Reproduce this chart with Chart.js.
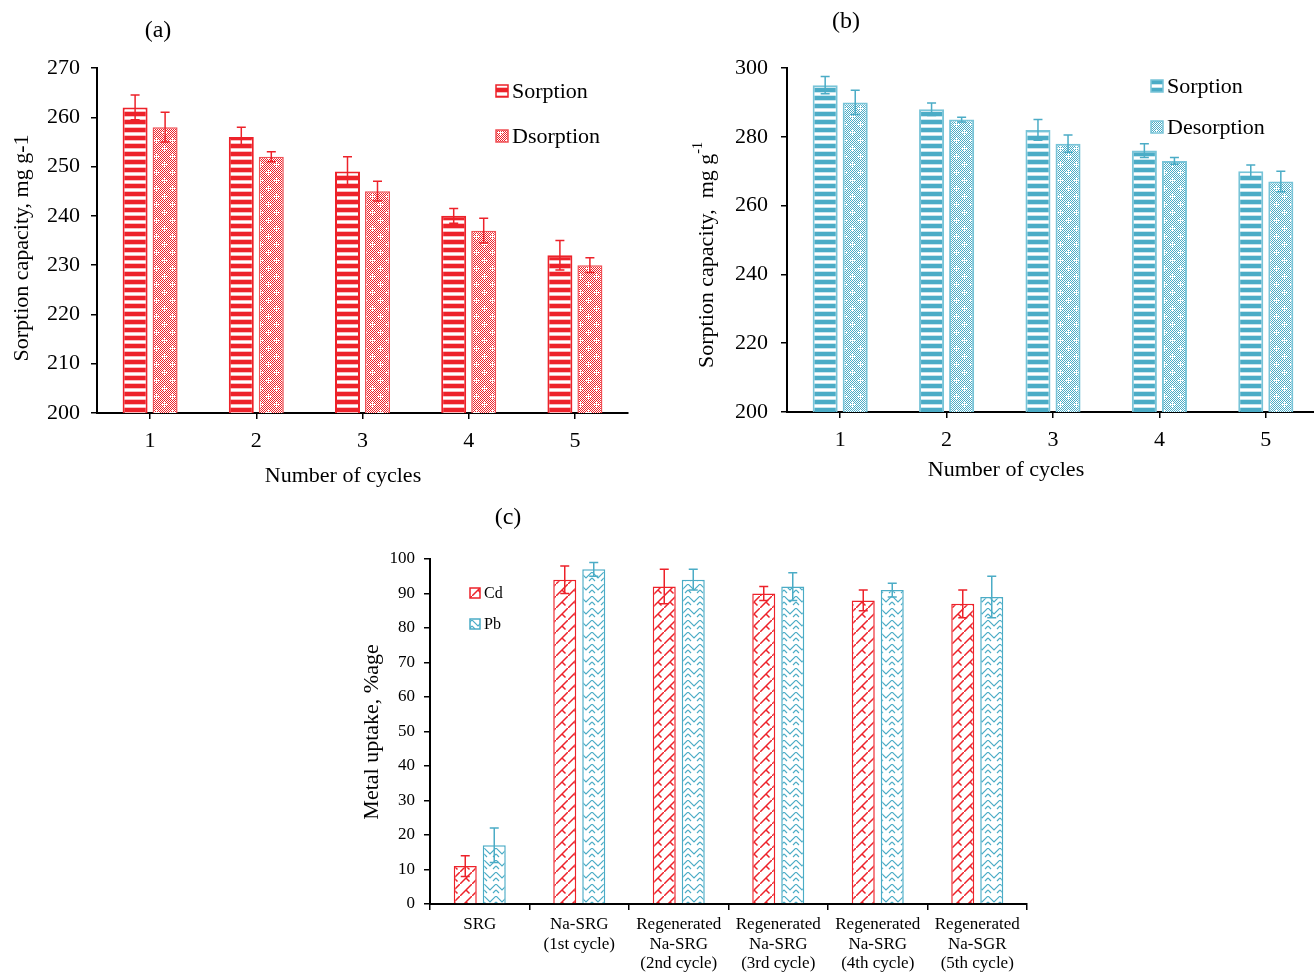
<!DOCTYPE html>
<html>
<head>
<meta charset="utf-8">
<script src="https://cdn.jsdelivr.net/npm/chart.js@4/dist/chart.umd.min.js"></script>
<style>
  html, body { margin: 0; padding: 0; background: #fff; overflow: hidden; width: 1314px; height: 973px; }
  canvas { position: absolute; }
  #chartA { left: 0; top: 0; }
  #chartB { left: 640px; top: 0; }
  #chartC { left: 340px; top: 500px; }
</style>
</head>
<body>
<canvas id="chartA" width="640" height="500"></canvas>
<canvas id="chartB" width="691" height="500"></canvas>
<canvas id="chartC" width="700" height="473"></canvas>
<script>
// ---------- data ----------
const cycleLabels = ["1", "2", "3", "4", "5"];

const sorptionA = [262, 256, 249, 240, 232];
const sorptionAErr = [2.5, 2, 3, 1.5, 3];
const desorptionA = [258, 252, 245, 237, 230];
const desorptionAErr = [3, 1, 2, 2.5, 1.5];

const sorptionB = [295, 288, 282, 276, 270];
const sorptionBErr = [2.5, 1.8, 3, 2, 1.8];
const desorptionB = [290, 285, 278, 273, 267];
const desorptionBErr = [3.5, 0.7, 2.5, 1, 3];

const sorbentLabels = [
  ["SRG"],
  ["Na-SRG", "(1st cycle)"],
  ["Regenerated", "Na-SRG", "(2nd cycle)"],
  ["Regenerated", "Na-SRG", "(3rd cycle)"],
  ["Regenerated", "Na-SRG", "(4th cycle)"],
  ["Regenerated", "Na-SGR", "(5th cycle)"]
];
const cdUptake = [11, 94, 92, 90, 88, 87];
const cdErr = [3, 4, 5, 2, 3, 4];
const pbUptake = [17, 97, 94, 92, 91, 89];
const pbErr = [5, 2, 3, 4, 2, 6];

// ---------- look ----------
const SERIF = "'Liberation Serif', 'Times New Roman', serif";
const RED = "rgb(237,34,42)";
const BLUE = "rgb(75,172,198)";
const BLUE_EDGE = "rgb(120,196,216)";

function tile(w, h, draw) {
  const c = document.createElement("canvas");
  c.width = w; c.height = h;
  const g = c.getContext("2d");
  g.fillStyle = "#fff";
  g.fillRect(0, 0, w, h);
  draw(g);
  return g.createPattern(c, "repeat");
}

function stripes(color) {
  return tile(8, 8, g => {
    g.fillStyle = color;
    g.fillRect(0, 0, 8, 4);
    g.globalAlpha = 0.3;
    g.fillRect(0, 4, 8, 1);
    g.fillRect(0, 7, 8, 1);
  });
}

function speckle(color) {
  return tile(16, 16, g => {
    g.fillStyle = color;
    for (let y = 0; y < 16; y++)
      for (let x = 0; x < 16; x++)
        if ((x + y) % 2 === 0) g.fillRect(x, y, 1, 1);
    g.fillStyle = "#fff";
    [[4, 4], [12, 12]].forEach(([x, y]) => {
      g.fillRect(x - 2, y, 5, 1);
      g.fillRect(x, y - 2, 1, 5);
    });
  });
}

// diagonal bands with short rungs, like a shingle fill
function shingle(color) {
  return tile(12, 12, g => {
    g.strokeStyle = color;
    g.lineWidth = 1.5;
    g.beginPath();
    g.moveTo(-1, 13); g.lineTo(13, -1);
    g.moveTo(6, 6); g.lineTo(9.5, 9.5);
    g.stroke();
  });
}

function weave(color) {
  return tile(12, 12, g => {
    g.strokeStyle = color;
    g.lineWidth = 1.2;
    g.beginPath();
    g.moveTo(0, 0); g.lineTo(6, 6); g.lineTo(12, 0);
    g.moveTo(0, 6); g.lineTo(3, 9);
    g.moveTo(9, 9); g.lineTo(12, 6);
    g.stroke();
  });
}

// ---------- plugins ----------
const errorBars = {
  id: "errorBars",
  afterDatasetsDraw(chart, args, opts) {
    const ctx = chart.ctx;
    const y = chart.scales.y;
    const half = (opts.cap || 9) / 2;
    chart.data.datasets.forEach((ds, i) => {
      if (!ds.errors) return;
      const meta = chart.getDatasetMeta(i);
      ctx.save();
      ctx.strokeStyle = ds.errorColor;
      ctx.lineWidth = 1.5;
      meta.data.forEach((bar, j) => {
        const top = y.getPixelForValue(ds.data[j] + ds.errors[j]);
        const bot = y.getPixelForValue(ds.data[j] - ds.errors[j]);
        ctx.beginPath();
        ctx.moveTo(bar.x, top); ctx.lineTo(bar.x, bot);
        ctx.moveTo(bar.x - half, top); ctx.lineTo(bar.x + half, top);
        ctx.moveTo(bar.x - half, bot); ctx.lineTo(bar.x + half, bot);
        ctx.stroke();
      });
      ctx.restore();
    });
  }
};

const captions = {
  id: "captions",
  afterDraw(chart, args, opts) {
    const ctx = chart.ctx;
    (opts.items || []).forEach(it => {
      ctx.save();
      ctx.fillStyle = "#000";
      ctx.textBaseline = "middle";
      ctx.textAlign = "left";
      ctx.translate(it.x, it.y);
      if (it.rotate) ctx.rotate(it.rotate);
      ctx.font = it.size + "px " + SERIF;
      const w = ctx.measureText(it.text).width;
      let supW = 0;
      const supFont = Math.round(it.size * 0.62) + "px " + SERIF;
      if (it.sup) { ctx.font = supFont; supW = ctx.measureText(it.sup).width; }
      const x0 = -(w + supW) / 2;
      ctx.font = it.size + "px " + SERIF;
      ctx.fillText(it.text, x0, 0);
      if (it.sup) {
        ctx.font = supFont;
        ctx.fillText(it.sup, x0 + w, -it.size * 0.38);
      }
      ctx.restore();
    });
  }
};

const boxLegend = {
  id: "boxLegend",
  afterDraw(chart, args, opts) {
    if (opts.x === undefined) return;
    const ctx = chart.ctx;
    chart.data.datasets.forEach((ds, i) => {
      const cy = opts.y + i * opts.gap;
      const b = opts.box;
      ctx.save();
      ctx.fillStyle = ds.backgroundColor;
      ctx.fillRect(opts.x, cy - b / 2, b, b);
      ctx.strokeStyle = ds.borderColor;
      ctx.lineWidth = 1.5;
      ctx.strokeRect(opts.x, cy - b / 2, b, b);
      ctx.fillStyle = "#000";
      ctx.font = opts.size + "px " + SERIF;
      ctx.textBaseline = "middle";
      ctx.fillText(ds.label, opts.x + b + 4, cy + 1);
      ctx.restore();
    });
  }
};

Chart.register(errorBars, captions, boxLegend);

// ---------- axes ----------
function valueAxis(min, max, step, width, pad, size) {
  return {
    min: min, max: max,
    ticks: { stepSize: step, padding: pad, color: "#000", font: { family: SERIF, size: size } },
    grid: { drawOnChartArea: false, tickLength: 6, color: "#000", lineWidth: 1.5 },
    border: { display: true, color: "#000", width: 2 },
    afterFit(s) { s.width = width; }
  };
}

function categoryAxis(height, pad, size, lineHeight, between) {
  return {
    ticks: { padding: pad, color: "#000", maxRotation: 0, autoSkip: false,
             font: { family: SERIF, size: size, lineHeight: lineHeight } },
    grid: { offset: between, drawOnChartArea: false, tickLength: 6, color: "#000", lineWidth: 1.5 },
    border: { display: true, color: "#000", width: 2 },
    afterFit(s) { s.height = height; }
  };
}

function barSet(label, data, errors, fill, edge, edgeWidth, errColor) {
  return {
    label: label, data: data, errors: errors, errorColor: errColor,
    backgroundColor: fill, borderColor: edge, borderWidth: edgeWidth
  };
}

// ---------- (a) ----------
new Chart(document.getElementById("chartA"), {
  type: "bar",
  data: {
    labels: cycleLabels,
    datasets: [
      barSet("Sorption", sorptionA, sorptionAErr, stripes(RED), RED, 2, RED),
      barSet("Dsorption", desorptionA, desorptionAErr, speckle(RED), "rgb(240,80,86)", 1.5, RED)
    ]
  },
  options: {
    responsive: false, animation: false, devicePixelRatio: 1,
    layout: { padding: { top: 68, right: 12, left: 0, bottom: 0 } },
    datasets: { bar: { categoryPercentage: 0.565, barPercentage: 0.833 } },
    scales: {
      x: categoryAxis(87, 9, 22, 1.2, false),
      y: valueAxis(200, 270, 10, 97, 11, 22)
    },
    plugins: {
      legend: { display: false },
      tooltip: { enabled: false },
      errorBars: { cap: 9 },
      boxLegend: { x: 496, y: 91, gap: 45, box: 12, size: 22 },
      captions: { items: [
        { text: "(a)", x: 158, y: 31, size: 24 },
        { text: "Number of cycles", x: 343, y: 476, size: 22 },
        { text: "Sorption capacity, mg g-1", x: 22, y: 248, size: 22, rotate: -Math.PI / 2 }
      ] }
    }
  }
});

// ---------- (b) ----------
new Chart(document.getElementById("chartB"), {
  type: "bar",
  data: {
    labels: cycleLabels,
    datasets: [
      barSet("Sorption", sorptionB, sorptionBErr, stripes(BLUE), BLUE_EDGE, 2, BLUE),
      barSet("Desorption", desorptionB, desorptionBErr, speckle(BLUE), BLUE_EDGE, 2, BLUE)
    ]
  },
  options: {
    responsive: false, animation: false, devicePixelRatio: 1,
    layout: { padding: { top: 68, right: 12, left: 0, bottom: 0 } },
    datasets: { bar: { categoryPercentage: 0.565, barPercentage: 0.833 } },
    scales: {
      x: categoryAxis(88, 9, 22, 1.2, false),
      y: valueAxis(200, 300, 20, 147, 13, 22)
    },
    plugins: {
      legend: { display: false },
      tooltip: { enabled: false },
      errorBars: { cap: 9 },
      boxLegend: { x: 511, y: 86, gap: 41, box: 12, size: 22 },
      captions: { items: [
        { text: "(b)", x: 206, y: 22, size: 24 },
        { text: "Number of cycles", x: 366, y: 470, size: 22 },
        { text: "Sorption capacity,  mg g", sup: "-1", x: 67, y: 255, size: 22, rotate: -Math.PI / 2 }
      ] }
    }
  }
});

// ---------- (c) ----------
new Chart(document.getElementById("chartC"), {
  type: "bar",
  data: {
    labels: sorbentLabels,
    datasets: [
      barSet("Cd", cdUptake, cdErr, shingle(RED), RED, 1.5, RED),
      barSet("Pb", pbUptake, pbErr, weave(BLUE), BLUE, 1.5, BLUE)
    ]
  },
  options: {
    responsive: false, animation: false, devicePixelRatio: 1,
    layout: { padding: { top: 59, right: 13, left: 0, bottom: 0 } },
    datasets: { bar: { categoryPercentage: 0.583, barPercentage: 0.793 } },
    scales: {
      x: categoryAxis(69, 5, 17, 1.15, true),
      y: valueAxis(0, 100, 10, 90, 9, 17)
    },
    plugins: {
      legend: { display: false },
      tooltip: { enabled: false },
      errorBars: { cap: 9 },
      boxLegend: { x: 130, y: 93, gap: 31, box: 10, size: 16 },
      captions: { items: [
        { text: "(c)", x: 168, y: 18, size: 24 },
        { text: "Metal uptake, %age", x: 32, y: 232, size: 22, rotate: -Math.PI / 2 }
      ] }
    }
  }
});
</script>
</body>
</html>
